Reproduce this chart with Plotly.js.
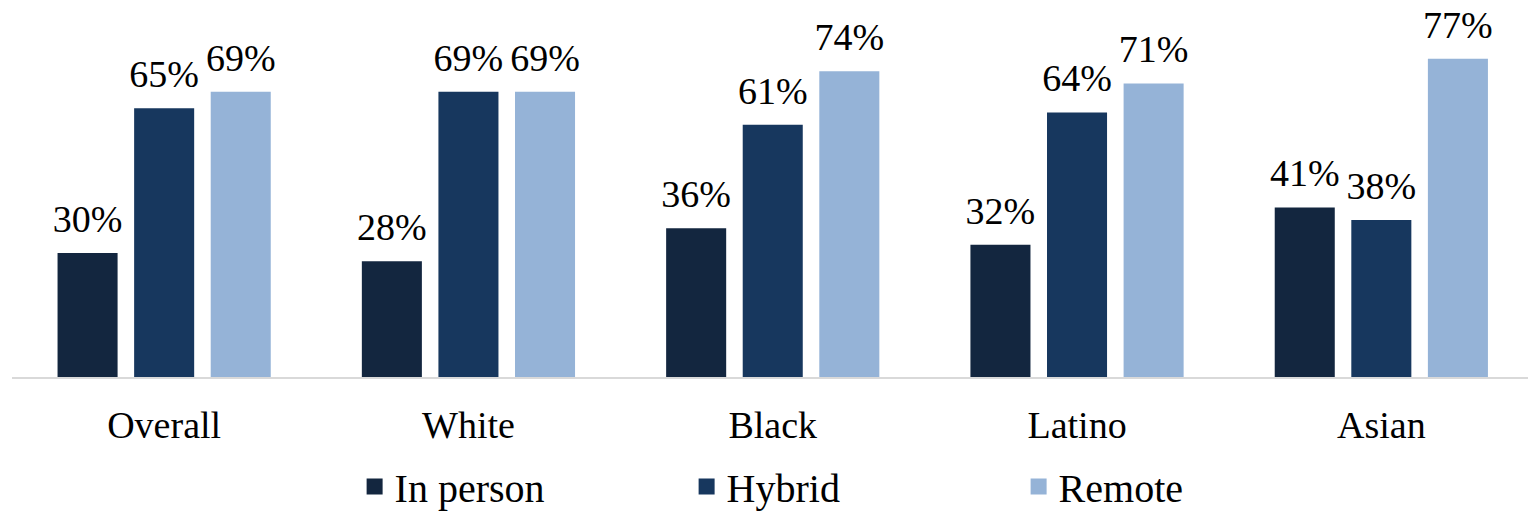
<!DOCTYPE html>
<html>
<head>
<meta charset="utf-8">
<script src="https://cdn.plot.ly/plotly-3.0.1.min.js"></script>
<style>
  html, body { margin: 0; padding: 0; background: #fff; }
  #chart { width: 1528px; height: 512px; }
</style>
</head>
<body>
<div id="chart"></div>
<script>
// Share of workers by work arrangement, by group (percent)
const groups = ["Overall", "White", "Black", "Latino", "Asian"];
const inPerson = [30, 28, 36, 32, 41];
const hybrid   = [65, 69, 61, 64, 38];
const remote   = [69, 69, 74, 71, 77];

const seriesNames  = ["In person", "Hybrid", "Remote"];
const seriesColors = ["#13263F", "#17375E", "#95B3D7"];
const seriesValues = [inPerson, hybrid, remote];

const FONT = "Liberation Serif, Times New Roman, serif";

// Bars (legend entries come from the swatch traces below)
const barTraces = seriesValues.map((vals, i) => ({
  type: "bar",
  name: seriesNames[i],
  x: groups,
  y: vals,
  offsetgroup: String(i),
  marker: { color: seriesColors[i] },
  hoverinfo: "skip",
  showlegend: false
}));

// Value labels, grouped like the bars and lifted above each bar top
const labelTraces = seriesValues.map((vals, i) => ({
  type: "scatter",
  mode: "markers+text",
  x: groups,
  y: vals,
  offsetgroup: String(i),
  text: vals.map(v => v + "%"),
  textposition: "top center",
  textfont: { family: FONT, size: 38, color: "#000" },
  marker: { size: 17, color: "rgba(0,0,0,0)" },
  cliponaxis: false,
  hoverinfo: "skip",
  showlegend: false
}));

// Legend entries with larger square swatches
const legendTraces = seriesNames.map((name, i) => ({
  type: "scatter",
  mode: "markers",
  name: name,
  x: [null],
  y: [null],
  marker: { symbol: "square", size: 16, color: seriesColors[i] },
  hoverinfo: "skip",
  showlegend: true
}));

const layout = {
  width: 1528,
  height: 512,
  margin: { l: 12, r: 0, t: 5, b: 135, autoexpand: false },
  paper_bgcolor: "#fff",
  plot_bgcolor: "#fff",
  barmode: "group",
  bargap: 0.245,
  bargroupgap: 0.216,
  scattermode: "group",
  scattergap: 0.245,
  font: { family: FONT, size: 38, color: "#000" },
  xaxis: {
    type: "category",
    range: [-0.5, 4.482],
    showline: true,
    linecolor: "#D9D9D9",
    linewidth: 1.5,
    ticks: "",
    ticklabelstandoff: 14,
    showgrid: false,
    zeroline: false,
    tickfont: { family: FONT, size: 38, color: "#000" },
    fixedrange: true
  },
  yaxis: {
    range: [0, 90],
    visible: false,
    showgrid: false,
    zeroline: false,
    fixedrange: true
  },
  legend: {
    orientation: "h",
    x: 0.226,
    xanchor: "left",
    yref: "container",
    y: 0.05,
    yanchor: "middle",
    font: { family: FONT, size: 40, color: "#000" },
    entrywidth: 287,
    entrywidthmode: "pixels",
    itemsizing: "trace",
    bgcolor: "rgba(0,0,0,0)"
  },
  showlegend: true
};

Plotly.newPlot("chart", [...barTraces, ...labelTraces, ...legendTraces], layout, { displayModeBar: false, staticPlot: true });
</script>
</body>
</html>
